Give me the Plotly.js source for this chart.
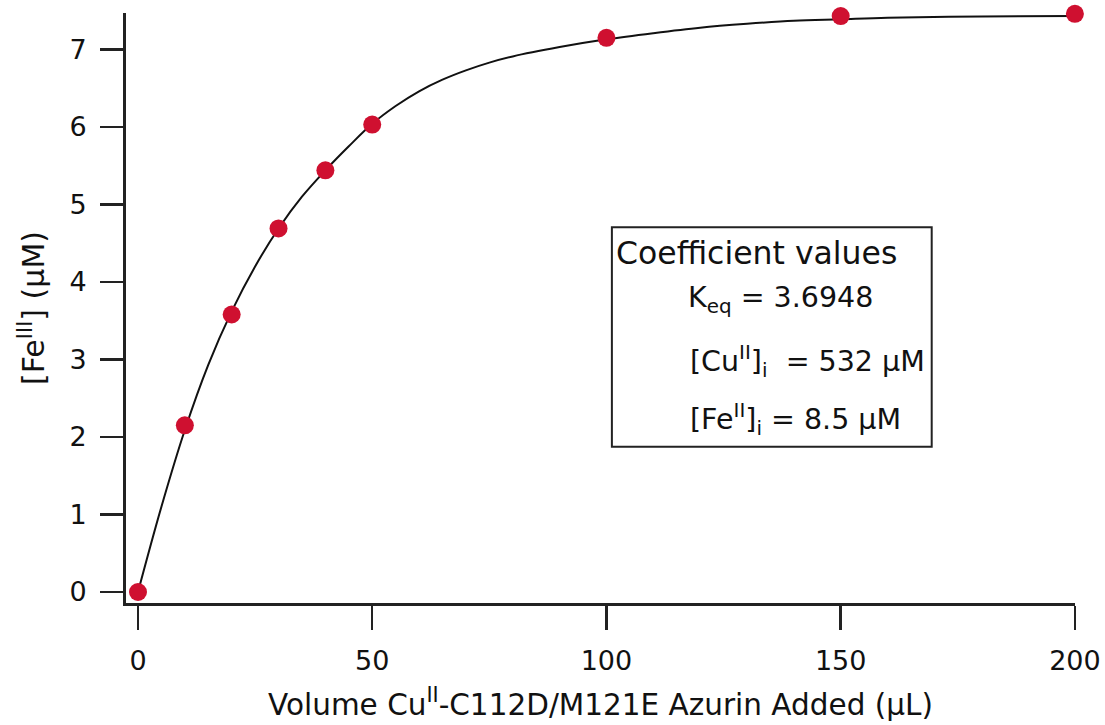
<!DOCTYPE html>
<html>
<head>
<meta charset="utf-8">
<script src="https://cdn.plot.ly/plotly-3.0.1.min.js"></script>
<style>html,body{margin:0;padding:0;background:#fff;}#chart{width:1105px;height:725px;}</style>
</head>
<body>
<div id="chart"></div>
<script>
// Measured data (volume added in µL, [Fe(III)] in µM)
var volume = [0, 10, 20, 30, 40, 50, 100, 150, 200];
var feIII = [0, 2.15, 3.58, 4.69, 5.44, 6.03, 7.15, 7.43, 7.46];

// Fit curve
var fitVolume = [0, 5, 10, 15, 20, 25, 30, 35, 40, 45, 50, 55, 60, 65, 70, 75, 80, 90, 100, 110, 120, 130, 140, 150, 160, 180, 200];
var fitFe = [0, 1.10, 2.09, 2.93, 3.62, 4.20, 4.69, 5.10, 5.44, 5.75, 6.04, 6.27, 6.46, 6.61, 6.73, 6.83, 6.91, 7.03, 7.13, 7.21, 7.28, 7.33, 7.37, 7.39, 7.41, 7.425, 7.43];

var xTicks = [0, 50, 100, 150, 200];
var yTicks = [0, 1, 2, 3, 4, 5, 6, 7];

var FONT = "DejaVu Sans";
var traces = [
  {x: fitVolume, y: fitFe, mode: 'lines', line: {color: '#111', width: 2, shape: 'spline', smoothing: 1}, hoverinfo: 'skip', cliponaxis: false},
  {x: volume, y: feIII, mode: 'markers', marker: {color: '#cf1030', size: 18}, cliponaxis: false}
];

var layout = {
  width: 1105, height: 725,
  margin: {l: 126, r: 30, t: 13, b: 122},
  showlegend: false,
  paper_bgcolor: '#fff', plot_bgcolor: '#fff',
  font: {family: FONT, color: '#111', size: 27},
  xaxis: {
    range: [-2.56, 200.02], tickvals: xTicks, ticktext: xTicks.map(String),
    showgrid: false, zeroline: false, showline: true, linecolor: '#222', linewidth: 3,
    ticks: 'outside', ticklen: 24, tickwidth: 2.5, tickcolor: '#222',
    ticklabelstandoff: 8,
    tickfont: {family: FONT, size: 27, color: '#111'},
    title: {text: 'Volume Cu<sup>II</sup>-C112D/M121E Azurin Added (µL)', font: {family: FONT, size: 29.5, color: '#111'}, standoff: 19}
  },
  yaxis: {
    range: [-0.142, 7.47], tickvals: yTicks, ticktext: yTicks.map(String),
    showgrid: false, zeroline: false, showline: true, linecolor: '#222', linewidth: 3,
    ticks: 'outside', ticklen: 23, tickwidth: 2.5, tickcolor: '#222',
    ticklabelstandoff: 8,
    tickfont: {family: FONT, size: 27, color: '#111'},
    title: {text: '[Fe<sup>III</sup>] (µM)', font: {family: FONT, size: 30, color: '#111'}, standoff: 16}
  },
  shapes: [
    {type: 'rect', xref: 'paper', yref: 'paper', x0: 0.512, x1: 0.849, y0: 0.265, y1: 0.637, line: {color: '#222', width: 2}}
  ],
  annotations: [
    {xref: 'paper', yref: 'paper', x: 0.514, y: 0.593, xanchor: 'left', yanchor: 'middle', showarrow: false, text: 'Coefficient values', font: {family: FONT, size: 31.5, color: '#111'}},
    {xref: 'paper', yref: 'paper', x: 0.590, y: 0.515, xanchor: 'left', yanchor: 'middle', showarrow: false, text: 'K<sub>eq</sub> = 3.6948', font: {family: FONT, size: 28.5, color: '#111'}},
    {xref: 'paper', yref: 'paper', x: 0.592, y: 0.410, xanchor: 'left', yanchor: 'middle', showarrow: false, text: '[Cu<sup>II</sup>]<sub>i</sub>  = 532 µM', font: {family: FONT, size: 28.5, color: '#111'}},
    {xref: 'paper', yref: 'paper', x: 0.592, y: 0.312, xanchor: 'left', yanchor: 'middle', showarrow: false, text: '[Fe<sup>II</sup>]<sub>i</sub> = 8.5 µM', font: {family: FONT, size: 28.5, color: '#111'}}
  ]
};

Plotly.newPlot('chart', traces, layout, {displayModeBar: false, staticPlot: true});
</script>
</body>
</html>
